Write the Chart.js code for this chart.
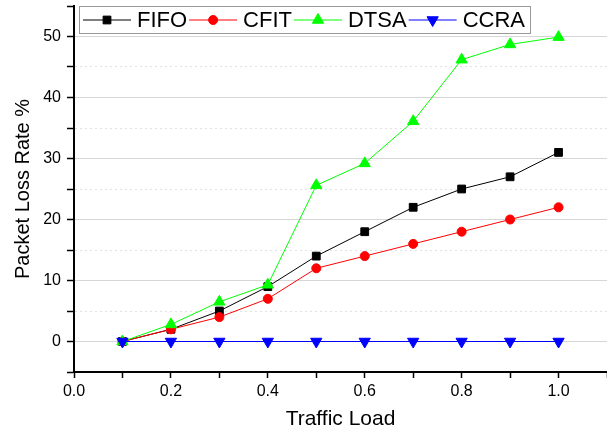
<!DOCTYPE html>
<html>
<head>
<meta charset="utf-8">
<script src="https://cdn.jsdelivr.net/npm/chart.js@4.4.1/dist/chart.umd.min.js"></script>
<style>
  html, body { margin: 0; padding: 0; background: #fff; }
  #wrap { width: 607px; height: 432px; }
</style>
</head>
<body>
<div id="wrap"><canvas id="lossChart"></canvas></div>
<script>
// Traffic load on the x axis
var loads = [0.1, 0.2, 0.3, 0.4, 0.5, 0.6, 0.7, 0.8, 0.9, 1.0];

// Packet loss rate (%) per scheme
var fifo = [0, 2, 5, 9, 14, 18, 22, 25, 27, 31];
var cfit = [0, 2, 4, 7, 12, 14, 16, 18, 20, 22];
var dtsa = [0, 2.8, 6.5, 9.3, 25.6, 29.2, 36.1, 46.2, 48.7, 49.9];
var ccra = [0, 0, 0, 0, 0, 0, 0, 0, 0, 0];

var seriesNames = ["FIFO", "CFIT", "DTSA", "CCRA"];
var xTickLabels = ["0.0", "0.2", "0.4", "0.6", "0.8", "1.0"];
var yTickLabels = ["0", "10", "20", "30", "40", "50"];

var fontFamily = '"Liberation Sans", Arial, sans-serif';

function toPoints(values) {
    return values.map(function(v, i) { return { x: loads[i], y: v }; });
}

// legend with a frame, line + marker + name like the original
var boxLegend = {
    id: 'boxLegend',
    afterDraw: function(chart) {
        var ctx = chart.ctx;
        var sets = chart.data.datasets;
        var left = 79, top = 6, boxH = 27, midY = 20, lineLen = 48;
        ctx.save();
        ctx.font = '22px ' + fontFamily;
        var total = 4;
        sets.forEach(function(ds) {
            total += lineLen + 6 + ctx.measureText(ds.label).width + 2;
        });
        total += 3;
        ctx.fillStyle = '#fff';
        ctx.fillRect(left, top, total, boxH);
        ctx.strokeStyle = '#9a9a9a';
        ctx.lineWidth = 1;
        ctx.strokeRect(left + 0.5, top + 0.5, total, boxH);

        var x = left + 4;
        sets.forEach(function(ds) {
            ctx.strokeStyle = ds.borderColor;
            ctx.lineWidth = 1;
            ctx.beginPath();
            ctx.moveTo(x, midY);
            ctx.lineTo(x + lineLen, midY);
            ctx.stroke();
            ctx.fillStyle = ds.pointBackgroundColor;
            ctx.strokeStyle = ds.pointBorderColor;
            Chart.helpers.drawPoint(ctx, {
                pointStyle: ds.pointStyle,
                radius: ds.pointRadius,
                rotation: ds.pointRotation || 0,
                borderWidth: 1
            }, x + lineLen / 2, midY);
            x += lineLen + 6;
            ctx.fillStyle = '#000';
            ctx.textBaseline = 'middle';
            ctx.textAlign = 'left';
            ctx.fillText(ds.label, x, midY + 1);
            x += ctx.measureText(ds.label).width + 2;
        });
        ctx.restore();
    }
};

var ctxLoss = document.getElementById("lossChart");
var lossChart = new Chart(ctxLoss, {
    type: 'line',
    data: {
        datasets: [{
            label: seriesNames[0],
            data: toPoints(fifo),
            borderColor: "#000000",
            borderWidth: 1,
            pointStyle: 'rect',
            pointRadius: 5.5,
            pointBackgroundColor: "#000000",
            pointBorderColor: "#000000",
            pointBorderWidth: 1,
            order: 4
        }, {
            label: seriesNames[1],
            data: toPoints(cfit),
            borderColor: "#ff0000",
            borderWidth: 1,
            pointStyle: 'circle',
            pointRadius: 4.5,
            pointBackgroundColor: "#ff0000",
            pointBorderColor: "#ff0000",
            pointBorderWidth: 1,
            order: 3
        }, {
            label: seriesNames[2],
            data: toPoints(dtsa),
            borderColor: "#00ff00",
            borderWidth: 1,
            pointStyle: 'triangle',
            pointRadius: 6.5,
            pointBackgroundColor: "#00ff00",
            pointBorderColor: "#00ff00",
            pointBorderWidth: 1,
            order: 2
        }, {
            label: seriesNames[3],
            data: toPoints(ccra),
            borderColor: "#0000ff",
            borderWidth: 1,
            pointStyle: 'triangle',
            pointRotation: 180,
            pointRadius: 6.5,
            pointBackgroundColor: "#0000ff",
            pointBorderColor: "#0000ff",
            pointBorderWidth: 1,
            order: 1
        }]
    },
    options: {
        animation: false,
        responsive: true,
        maintainAspectRatio: false,
        layout: {
            autoPadding: false,
            padding: { top: 6, right: 0, bottom: 0, left: 0 }
        },
        scales: {
            x: {
                type: 'linear',
                min: 0,
                max: 1.1,
                afterFit: function(scale) {
                    scale.height = 60;
                    scale.paddingLeft = 0;
                    scale.paddingRight = 0;
                },
                ticks: {
                    stepSize: 0.1,
                    autoSkip: false,
                    maxRotation: 0,
                    padding: 4,
                    color: '#000',
                    font: { size: 16, family: fontFamily },
                    callback: function(value) {
                        var s = Number(value).toFixed(1);
                        return xTickLabels.indexOf(s) >= 0 ? s : '';
                    }
                },
                grid: {
                    drawOnChartArea: false,
                    tickLength: 6,
                    tickColor: '#000',
                    tickWidth: 1.5
                },
                border: { color: '#000', width: 2 },
                title: {
                    display: true,
                    text: 'Traffic Load',
                    color: '#000',
                    font: { size: 21, family: fontFamily },
                    padding: { top: 1, bottom: 0 }
                }
            },
            y: {
                min: -5,
                max: 55,
                afterFit: function(scale) {
                    scale.width = 74;
                    scale.paddingTop = 0;
                    scale.paddingBottom = 0;
                },
                ticks: {
                    stepSize: 5,
                    autoSkip: false,
                    padding: 6,
                    color: '#000',
                    font: { size: 16, family: fontFamily },
                    callback: function(value) {
                        var s = String(Math.round(value));
                        return yTickLabels.indexOf(s) >= 0 ? s : '';
                    }
                },
                grid: {
                    tickLength: 7,
                    tickColor: '#000',
                    tickWidth: 1.5,
                    tickBorderDash: [],
                    lineWidth: 1,
                    color: function(c) {
                        if (!c.tick) return 'rgba(0,0,0,0)';
                        var v = Math.round(c.tick.value);
                        if (v < 0 || v > 50) return 'rgba(0,0,0,0)';
                        return v % 10 === 0 ? '#d6d6d6' : '#e2e2e2';
                    }
                },
                border: {
                    color: '#000',
                    width: 2,
                    dash: function(c) {
                        if (!c.tick) return [];
                        var v = Math.round(c.tick.value);
                        return v % 10 === 0 ? [] : [2, 3];
                    }
                },
                title: {
                    display: true,
                    text: 'Packet Loss Rate %',
                    color: '#000',
                    font: { size: 20, family: fontFamily },
                    padding: { top: 11, bottom: 0 }
                }
            }
        },
        plugins: {
            legend: { display: false },
            tooltip: { enabled: false }
        }
    },
    plugins: [boxLegend]
});
</script>
</body>
</html>
